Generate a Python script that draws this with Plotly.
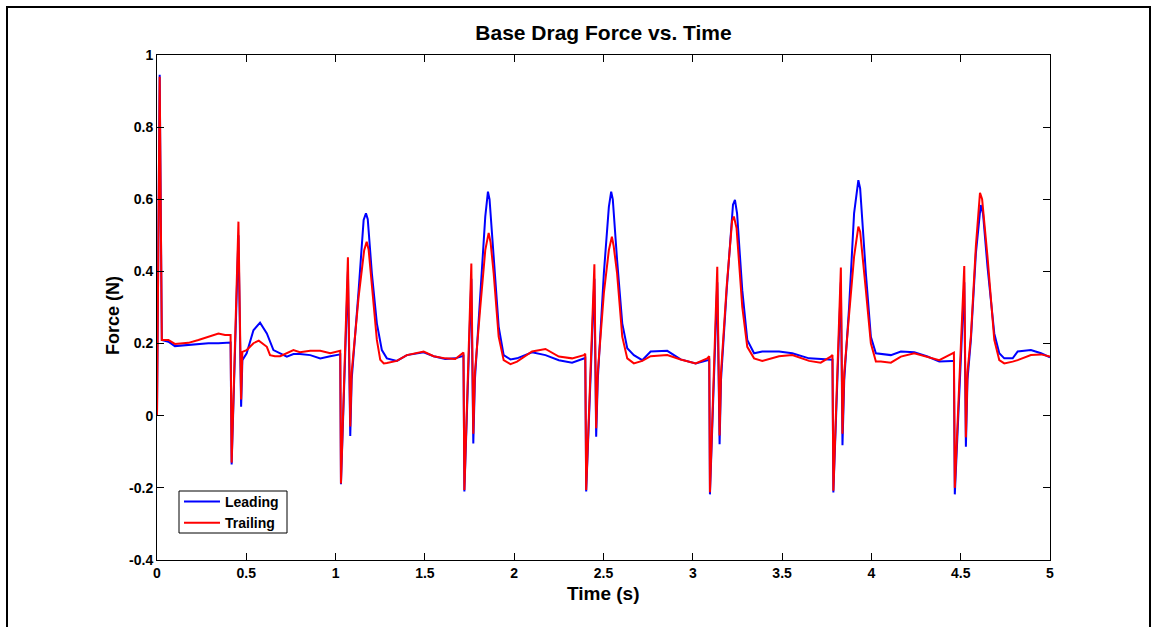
import plotly.graph_objects as go

# ---------------- data ----------------
lead_t = [0.000, 0.015, 0.027, 0.064, 0.100, 0.176, 0.232, 0.288, 0.344, 0.381, 0.412,
          0.418, 0.456, 0.471, 0.478, 0.502, 0.540, 0.577, 0.615, 0.652, 0.690, 0.727, 0.764, 0.800,
          0.858, 0.914, 0.970, 1.026,
          1.030, 1.069, 1.082, 1.090, 1.129, 1.157, 1.170, 1.180, 1.203, 1.231, 1.259, 1.287, 1.343,
          1.399, 1.493, 1.549, 1.614, 1.670, 1.716,
          1.721, 1.760, 1.771, 1.780, 1.810, 1.838, 1.853, 1.862, 1.885, 1.913, 1.941, 1.979, 2.016,
          2.100, 2.175, 2.250, 2.324, 2.390, 2.398,
          2.403, 2.449, 2.459, 2.468, 2.502, 2.530, 2.543, 2.552, 2.576, 2.605, 2.633, 2.670, 2.717,
          2.764, 2.857, 2.932, 3.016, 3.081, 3.092,
          3.096, 3.137, 3.150, 3.158, 3.190, 3.225, 3.236, 3.248, 3.277, 3.305, 3.343, 3.389, 3.483,
          3.557, 3.651, 3.716, 3.782,
          3.787, 3.829, 3.838, 3.848, 3.875, 3.903, 3.927, 3.937, 3.969, 3.997, 4.025, 4.053, 4.109,
          4.165, 4.240, 4.314, 4.380, 4.454, 4.462,
          4.467, 4.520, 4.529, 4.538, 4.557, 4.585, 4.612, 4.625, 4.650, 4.688, 4.716, 4.744, 4.791,
          4.819, 4.893, 4.950, 5.000]
lead_f = [0.000, 0.945, 0.210, 0.205, 0.193, 0.196, 0.199, 0.201, 0.201, 0.203, 0.203,
          -0.135, 0.500, 0.025, 0.154, 0.173, 0.237, 0.258, 0.228, 0.182, 0.173, 0.164, 0.171, 0.171,
          0.168, 0.159, 0.165, 0.170,
          -0.190, 0.400, -0.056, 0.100, 0.348, 0.543, 0.561, 0.545, 0.395, 0.256, 0.182, 0.159, 0.152,
          0.168, 0.176, 0.165, 0.157, 0.159, 0.166,
          -0.210, 0.380, -0.077, 0.100, 0.321, 0.552, 0.621, 0.600, 0.441, 0.247, 0.168, 0.156, 0.159,
          0.176, 0.168, 0.154, 0.147, 0.157, 0.160,
          -0.210, 0.380, -0.058, 0.100, 0.395, 0.579, 0.621, 0.600, 0.432, 0.256, 0.187, 0.168, 0.154,
          0.178, 0.180, 0.156, 0.145, 0.152, 0.155,
          -0.218, 0.370, -0.079, 0.100, 0.350, 0.585, 0.598, 0.560, 0.348, 0.210, 0.173, 0.178, 0.178,
          0.173, 0.159, 0.156, 0.155,
          -0.213, 0.370, -0.082, 0.100, 0.300, 0.561, 0.653, 0.630, 0.395, 0.219, 0.173, 0.171, 0.168,
          0.178, 0.176, 0.164, 0.150, 0.152, 0.152,
          -0.218, 0.370, -0.086, 0.100, 0.210, 0.450, 0.584, 0.560, 0.413, 0.228, 0.173, 0.159, 0.159,
          0.178, 0.182, 0.173, 0.162]

trail_t = [0.000, 0.015, 0.027, 0.064, 0.100, 0.176, 0.232, 0.288, 0.344, 0.381, 0.412,
           0.418, 0.456, 0.471, 0.478, 0.502, 0.540, 0.570, 0.615, 0.633, 0.660, 0.690, 0.727, 0.764, 0.800,
           0.858, 0.914, 0.970, 1.026,
           1.030, 1.069, 1.082, 1.090, 1.129, 1.160, 1.174, 1.185, 1.203, 1.231, 1.250, 1.270, 1.287, 1.343,
           1.399, 1.493, 1.549, 1.614, 1.670, 1.708, 1.716,
           1.721, 1.760, 1.771, 1.780, 1.810, 1.838, 1.857, 1.868, 1.885, 1.913, 1.941, 1.979, 2.016,
           2.100, 2.175, 2.250, 2.324, 2.390, 2.398,
           2.403, 2.449, 2.459, 2.468, 2.502, 2.530, 2.547, 2.557, 2.576, 2.605, 2.633, 2.670, 2.717,
           2.764, 2.857, 2.932, 3.016, 3.081, 3.092,
           3.096, 3.137, 3.150, 3.158, 3.190, 3.220, 3.230, 3.245, 3.277, 3.305, 3.343, 3.389, 3.483,
           3.557, 3.651, 3.716, 3.772, 3.782,
           3.787, 3.829, 3.838, 3.848, 3.875, 3.903, 3.927, 3.937, 3.969, 3.997, 4.025, 4.053, 4.109,
           4.165, 4.240, 4.314, 4.380, 4.454, 4.462,
           4.467, 4.520, 4.529, 4.538, 4.557, 4.585, 4.608, 4.620, 4.650, 4.688, 4.716, 4.744, 4.791,
           4.819, 4.893, 4.950, 5.000]
trail_f = [0.000, 0.940, 0.210, 0.210, 0.199, 0.202, 0.210, 0.219, 0.228, 0.224, 0.224,
           -0.130, 0.538, 0.045, 0.177, 0.182, 0.201, 0.208, 0.191, 0.168, 0.165, 0.165, 0.173, 0.182, 0.176,
           0.180, 0.180, 0.173, 0.180,
           -0.188, 0.439, -0.030, 0.120, 0.330, 0.459, 0.482, 0.460, 0.367, 0.210, 0.155, 0.145, 0.146, 0.152,
           0.168, 0.178, 0.165, 0.159, 0.157, 0.173, 0.175,
           -0.206, 0.422, -0.050, 0.120, 0.300, 0.459, 0.507, 0.480, 0.395, 0.219, 0.154, 0.143, 0.150,
           0.178, 0.185, 0.164, 0.159, 0.168, 0.172,
           -0.206, 0.420, -0.035, 0.120, 0.340, 0.459, 0.496, 0.470, 0.395, 0.219, 0.159, 0.145, 0.152,
           0.165, 0.168, 0.156, 0.145, 0.159, 0.165,
           -0.212, 0.413, -0.055, 0.120, 0.360, 0.540, 0.552, 0.520, 0.302, 0.191, 0.159, 0.152, 0.165,
           0.168, 0.152, 0.147, 0.164, 0.168,
           -0.208, 0.411, -0.050, 0.120, 0.280, 0.441, 0.524, 0.510, 0.348, 0.201, 0.150, 0.150, 0.147,
           0.164, 0.173, 0.162, 0.154, 0.173, 0.175,
           -0.200, 0.415, -0.060, 0.120, 0.220, 0.470, 0.618, 0.600, 0.441, 0.210, 0.154, 0.145, 0.150,
           0.154, 0.168, 0.170, 0.164]

x_tick_vals = [0, 0.5, 1, 1.5, 2, 2.5, 3, 3.5, 4, 4.5, 5]
x_tick_text = ["0", "0.5", "1", "1.5", "2", "2.5", "3", "3.5", "4", "4.5", "5"]
y_tick_vals = [-0.4, -0.2, 0, 0.2, 0.4, 0.6, 0.8, 1]
y_tick_text = ["-0.4", "-0.2", "0", "0.2", "0.4", "0.6", "0.8", "1"]

series_names = ["Leading", "Trailing"]

# ---------------- figure ----------------
FONT = "Liberation Sans, Arial, Helvetica, sans-serif"

fig = go.Figure()
fig.add_trace(go.Scatter(x=lead_t, y=lead_f, mode="lines", name=series_names[0],
                         line=dict(color="#0000FF", width=2)))
fig.add_trace(go.Scatter(x=trail_t, y=trail_f, mode="lines", name=series_names[1],
                         line=dict(color="#FF0000", width=2)))

W, H = 1158, 627
L, R, T, B = 157, 1050, 55, 560
pw, ph = R - L, B - T

axis_common = dict(showgrid=False, zeroline=False, showline=True, linecolor="black",
                   linewidth=1, mirror="ticks", ticks="inside", ticklen=7,
                   tickcolor="black", tickwidth=1,
                   tickfont=dict(family=FONT, size=14, color="black", weight="bold"))

fig.update_layout(
    width=W, height=H,
    margin=dict(l=L, r=W - R, t=T, b=H - B),
    paper_bgcolor="white", plot_bgcolor="white",
    font=dict(family=FONT, color="black"),
    title=dict(text="Base Drag Force vs. Time", x=(L + pw / 2) / W, xanchor="center",
               y=1 - 33 / H, yanchor="middle", yref="container",
               font=dict(family=FONT, size=21, color="black", weight="bold")),
    xaxis=dict(range=[0, 5], tickvals=x_tick_vals, ticktext=x_tick_text, **axis_common),
    yaxis=dict(range=[-0.4, 1], tickvals=y_tick_vals, ticktext=y_tick_text, **axis_common),
    showlegend=True,
    legend=dict(x=(179 - L) / pw, y=(B - 486) / ph, xanchor="left", yanchor="top",
                bgcolor="rgba(0,0,0,0)", borderwidth=0,
                font=dict(family=FONT, size=14, color="black", weight="bold"),
                tracegroupgap=0, itemwidth=36),
)

fig.add_annotation(text="Time (s)", xref="paper", yref="paper", x=0.5,
                   y=(B - 593) / ph, xanchor="center", yanchor="middle", showarrow=False,
                   font=dict(family=FONT, size=19, color="black", weight="bold"))
fig.add_annotation(text="Force (N)", xref="paper", yref="paper", x=(113 - L) / pw,
                   y=(B - 316) / ph, xanchor="center", yanchor="middle", showarrow=False,
                   textangle=-90,
                   font=dict(family=FONT, size=18, color="black", weight="bold"))

# legend box
fig.add_shape(type="rect", xref="paper", yref="paper",
              x0=(179 - L) / pw, x1=(287 - L) / pw,
              y0=(B - 533) / ph, y1=(B - 491) / ph,
              line=dict(color="black", width=1), fillcolor="white", layer="above")

# outer frame of the figure
fig.add_shape(type="rect", xref="paper", yref="paper",
              x0=(7 - L) / pw, x1=(1150 - L) / pw,
              y0=(B - 660) / ph, y1=(B - 7) / ph,
              line=dict(color="black", width=2), fillcolor="rgba(0,0,0,0)", layer="below")

fig.write_html("out.html")
